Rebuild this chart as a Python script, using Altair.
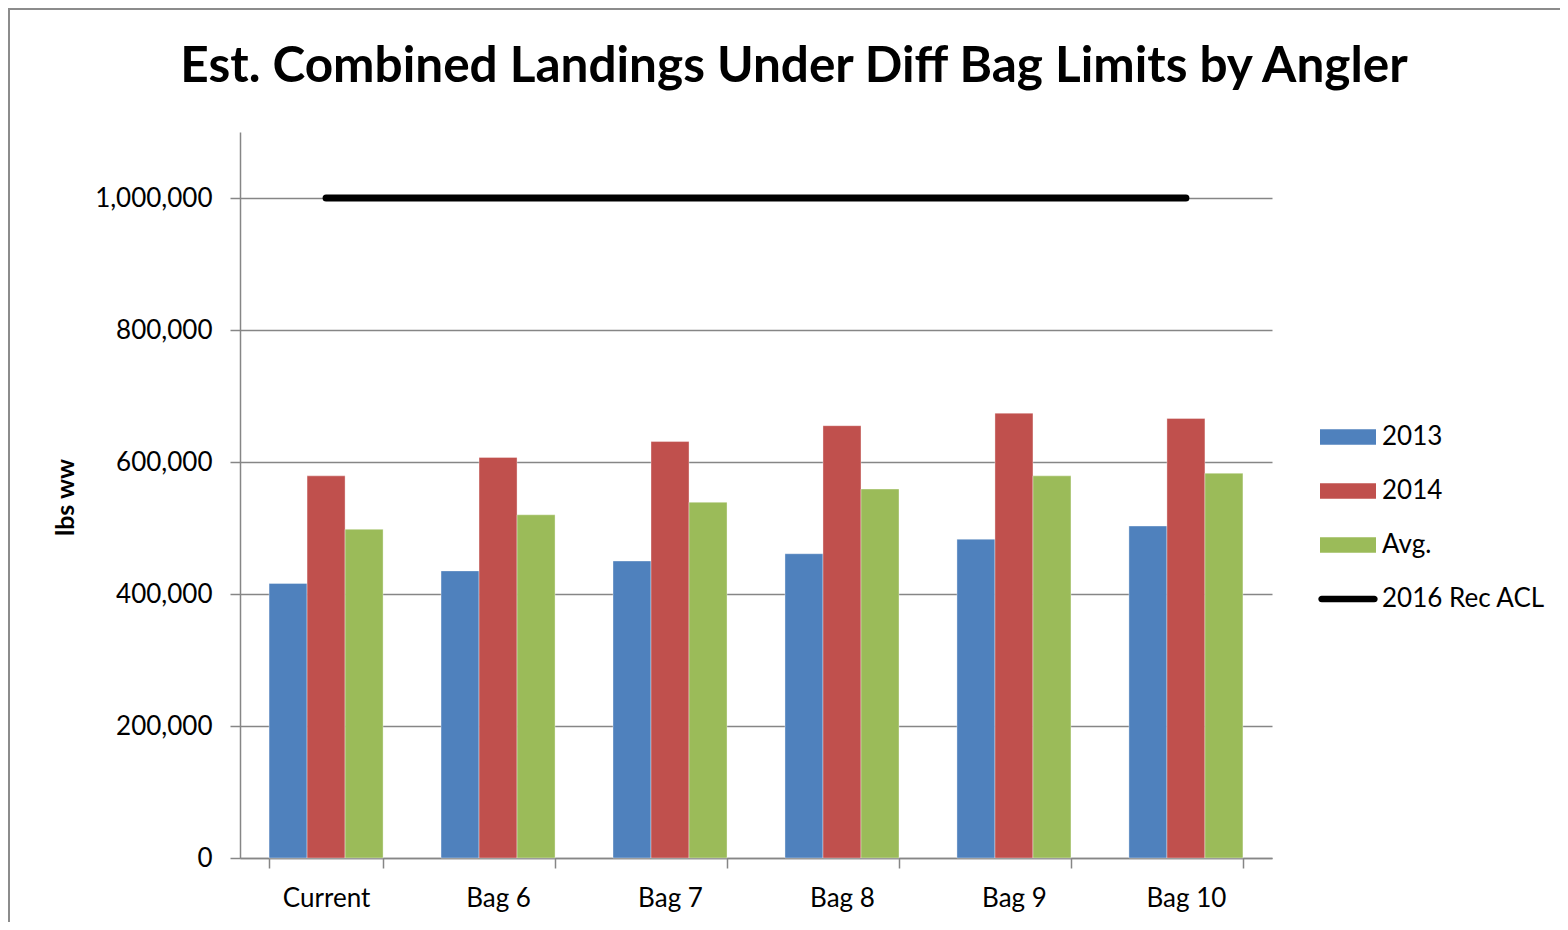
import altair as alt
import pandas as pd

categories = ["Current", "Bag 6", "Bag 7", "Bag 8", "Bag 9", "Bag 10"]
series = ["2013", "2014", "Avg."]
v2013 = [416000, 435000, 450000, 461000, 483000, 503000]
v2014 = [579000, 607000, 631000, 655000, 674000, 666000]
vavg = [498000, 520000, 539000, 559000, 579000, 583000]
acl_label = "2016 Rec ACL"
acl_value = 1000000

legend_domain = ["2013", "2014", "Avg.", acl_label]
colors = ["#4F81BD", "#C0504D", "#9BBB59", "#000000"]

rows = []
for s, vals in zip(series, [v2013, v2014, vavg]):
    for c, v in zip(categories, vals):
        rows.append({"cat": c, "series": s, "value": v})
bars_df = pd.DataFrame(rows)
acl_df = pd.DataFrame({"cat": categories, "value": [acl_value] * len(categories), "series": [acl_label] * len(categories)})

W, H = 1032, 726
FONT = "Lato"

xscale = alt.Scale(domain=categories, paddingInner=0.337, paddingOuter=0.169)
yscale = alt.Scale(domain=[0, 1100000], nice=False)

shape_expr = ("datum.value === '2016 Rec ACL' ? "
              "'M-0.94,-0.12H0.94A0.12,0.12 0 0 1 0.94,0.12H-0.94A0.12,0.12 0 0 1 -0.94,-0.12Z' : "
              "'M-1,-0.28H1V0.28H-1Z'")

bars = alt.Chart(bars_df).mark_bar(stroke="white", strokeWidth=0.6, strokeOpacity=0.6).encode(
    x=alt.X("cat:N", scale=xscale, sort=categories, title=None,
            axis=alt.Axis(labelAngle=0, tickBand="extent", tickSize=10, labelPadding=17,
                          labelFontSize=26, labelFont=FONT, labelColor="#000000",
                          domainColor="#868686", domainWidth=1.5, tickColor="#868686",
                          tickWidth=1.5, grid=False)),
    xOffset=alt.XOffset("series:N", sort=series, scale=alt.Scale(paddingInner=0, paddingOuter=0)),
    y=alt.Y("value:Q", scale=yscale, title="lbs ww",
            axis=alt.Axis(values=[0, 200000, 400000, 600000, 800000, 1000000], format=",.0f",
                          tickSize=10, labelPadding=18, labelFontSize=26, labelFont=FONT,
                          labelColor="#000000", domainColor="#868686", domainWidth=1.5,
                          tickColor="#868686", tickWidth=1.5, gridColor="#868686",
                          gridWidth=1.5, titleFont=FONT, titleFontSize=25, titleFontWeight="bold",
                          titleColor="#000000", titleX=-175, titleY=365, titleAngle=270,
                          titleAlign="center", titleBaseline="middle")),
    color=alt.Color("series:N", scale=alt.Scale(domain=legend_domain, range=colors),
                    legend=alt.Legend(title=None, orient="none", legendX=1080, legendY=277,
                                      symbolSize=3136, symbolStrokeWidth=0, padding=0,
                                      labelFontSize=26, labelFont=FONT, labelColor="#000000",
                                      labelOffset=6, rowPadding=13, labelLimit=400,
                                      symbolType={"expr": shape_expr})),
)

acl = alt.Chart(acl_df).mark_line(color="#000000", strokeWidth=7, strokeCap="round").encode(
    x=alt.X("cat:N", scale=xscale, sort=categories),
    y=alt.Y("value:Q", scale=yscale),
)

frame = alt.Chart(pd.DataFrame({"a": [0]})).mark_rect(fill=None, stroke="#8c8c8c", strokeWidth=2).encode(
    x=alt.value(-231), x2=alt.value(W + 400), y=alt.value(-123), y2=alt.value(H + 200)
)

chart = alt.layer(bars, acl, frame).properties(
    width=W, height=H,
    background="white",
    title=alt.TitleParams("Est. Combined Landings Under Diff Bag Limits by Angler",
                          font=FONT, fontSize=49.5, fontWeight="bold", color="#000000",
                          anchor="middle", frame="group", dx=38, offset=-84),
    padding={"left": 232, "top": 124, "right": 288, "bottom": 64},
    autosize=alt.AutoSizeParams(type="none"),
).configure_view(strokeWidth=0, stroke="transparent")

chart.save("out.html", embed_options={"renderer": "svg", "actions": False})
